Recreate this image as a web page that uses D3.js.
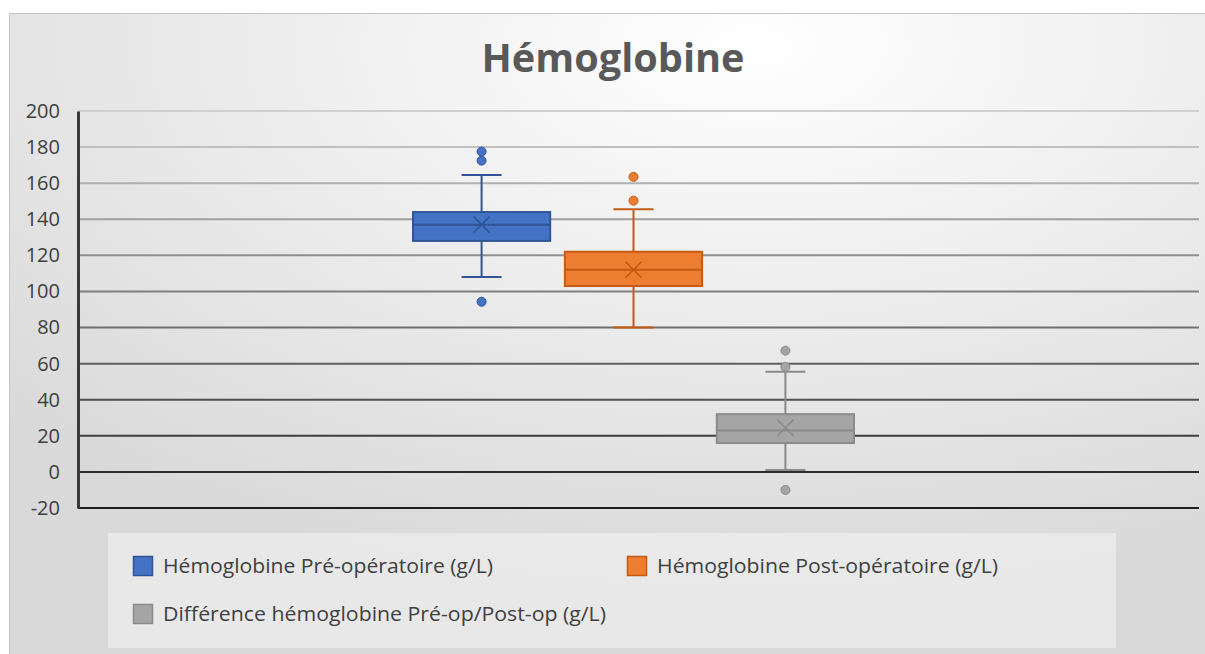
<!DOCTYPE html>
<html><head><meta charset="utf-8">
<script src="https://cdn.jsdelivr.net/npm/d3@7"></script>
<style>html,body{margin:0;padding:0;background:#fff;}svg{display:block;font-family:"Open Sans",sans-serif;}</style>
</head><body>
<svg id="c" width="1205" height="654"></svg>
<script>
const series = ["Hémoglobine Pré-opératoire (g/L)", "Hémoglobine Post-opératoire (g/L)", "Différence hémoglobine Pré-op/Post-op (g/L)"];
const whiskerLow = [108, 80, 1];
const q1 = [128, 103, 16];
const median = [137, 112, 23];
const q3 = [144, 122, 32];
const whiskerHigh = [164.5, 145.5, 55.5];
const mean = [137, 112, 24.5];
const outliers = [[177.5, 172.5, 94.3], [163.5, 150.3], [67.2, 58.2, -10]];
const yTicks = [-20, 0, 20, 40, 60, 80, 100, 120, 140, 160, 180, 200];
const fills = ["#4472C4", "#ED7D31", "#A5A5A5"];
const strokes = ["#2F5597", "#C55A11", "#8A8A8A"];

const svg = d3.select("#c");
const defs = svg.append("defs");
const rg = defs.append("radialGradient").attr("id","bg").attr("cx","0.62").attr("cy","0.05").attr("r","0.85").attr("fx","0.62").attr("fy","0.05");
rg.append("stop").attr("offset","0").attr("stop-color","#ffffff");
rg.append("stop").attr("offset","1").attr("stop-color","#d9d9d9");

svg.append("rect").attr("x",9.5).attr("y",13.5).attr("width",1200).attr("height",645)
  .attr("fill","url(#bg)").attr("stroke","#c4c4c4").attr("stroke-width",1);

svg.append("text").attr("x",613).attr("y",72).attr("text-anchor","middle")
  .attr("font-size",39).attr("font-weight","bold").attr("fill","#595959")
  .attr("textLength",263).attr("lengthAdjust","spacingAndGlyphs").text("Hémoglobine");

const plotL = 78, plotR = 1199;
const y = d3.scaleLinear().domain([-20,200]).range([508,111]);
const x = d3.scaleBand().domain(series).range([413, 854]).paddingInner(0.097).paddingOuter(0);

const gridColor = d3.scaleLinear().domain([200,-20]).range(["#d0d0d0","#1e1e1e"]).interpolate(d3.interpolateRgb);

svg.append("g").selectAll("line").data(yTicks.filter(v=>v>-20)).join("line")
  .attr("x1",plotL).attr("x2",plotR).attr("y1",d=>y(d)).attr("y2",d=>y(d))
  .attr("stroke",d=>gridColor(d)).attr("stroke-width",2);
svg.append("line").attr("x1",plotL).attr("x2",plotR).attr("y1",y(-20)).attr("y2",y(-20))
  .attr("stroke","#1e1e1e").attr("stroke-width",2);

const yAxis = d3.axisLeft(y).tickValues(yTicks).tickSize(0).tickPadding(18).tickFormat(d=>String(d));
const ga = svg.append("g").attr("transform",`translate(${plotL},0)`).call(yAxis);
ga.select(".domain").attr("stroke","#3a3a3a").attr("stroke-width",3);
ga.selectAll("text").attr("font-size",20).attr("fill","#404040").attr("font-family","'Open Sans',sans-serif");

const bw = x.bandwidth();
series.forEach((s,i)=>{
  const cx = x(s) + bw/2;
  const g = svg.append("g");
  g.append("line").attr("x1",cx).attr("x2",cx).attr("y1",y(q3[i])).attr("y2",y(whiskerHigh[i])).attr("stroke",strokes[i]).attr("stroke-width",2);
  g.append("line").attr("x1",cx).attr("x2",cx).attr("y1",y(q1[i])).attr("y2",y(whiskerLow[i])).attr("stroke",strokes[i]).attr("stroke-width",2);
  g.append("line").attr("x1",cx-20).attr("x2",cx+20).attr("y1",y(whiskerHigh[i])).attr("y2",y(whiskerHigh[i])).attr("stroke",strokes[i]).attr("stroke-width",2);
  g.append("line").attr("x1",cx-20).attr("x2",cx+20).attr("y1",y(whiskerLow[i])).attr("y2",y(whiskerLow[i])).attr("stroke",strokes[i]).attr("stroke-width",2);
  g.append("rect").attr("x",x(s)).attr("width",bw).attr("y",y(q3[i])).attr("height",y(q1[i])-y(q3[i]))
    .attr("fill",fills[i]).attr("stroke",strokes[i]).attr("stroke-width",2);
  g.append("line").attr("x1",x(s)).attr("x2",x(s)+bw).attr("y1",y(median[i])).attr("y2",y(median[i])).attr("stroke",strokes[i]).attr("stroke-width",2);
  const my = y(mean[i]), m = 8;
  g.append("path").attr("d",`M${cx-m},${my-m}L${cx+m},${my+m}M${cx-m},${my+m}L${cx+m},${my-m}`)
    .attr("stroke",strokes[i]).attr("stroke-width",1.6).attr("fill","none");
  g.selectAll("circle").data(outliers[i]).join("circle")
    .attr("cx",cx).attr("cy",d=>y(d)).attr("r",4.5)
    .attr("fill",fills[i]).attr("stroke",strokes[i]).attr("stroke-width",1);
});

svg.append("rect").attr("x",108).attr("y",533).attr("width",1008).attr("height",115).attr("fill","#ffffff").attr("opacity",0.4);
const legPos = [[133,556],[627,556],[133,604]];
const legW = [330, 341, 443];
series.forEach((s,i)=>{
  const [lx,ly] = legPos[i];
  svg.append("rect").attr("x",lx+0.5).attr("y",ly+0.5).attr("width",19).attr("height",19)
    .attr("fill",fills[i]).attr("stroke",strokes[i]).attr("stroke-width",1.5);
  svg.append("text").attr("x",lx+30).attr("y",ly+17).attr("font-size",20).attr("fill","#404040")
    .attr("textLength",legW[i]).attr("lengthAdjust","spacingAndGlyphs").text(s);
});
</script>
</body></html>
